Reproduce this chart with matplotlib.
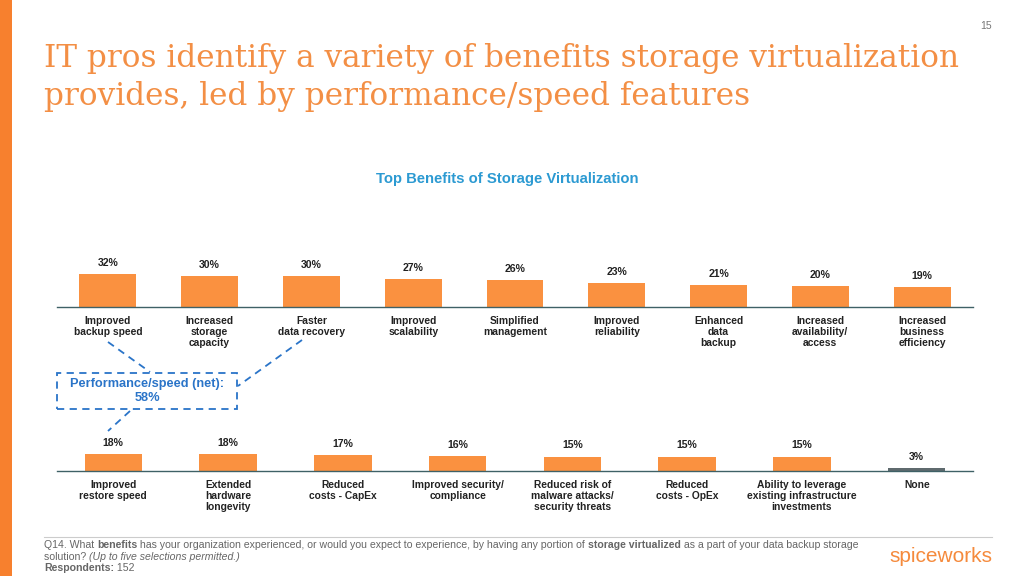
import matplotlib.pyplot as plt
from matplotlib.lines import Line2D
from matplotlib.patches import Rectangle

# top row
top_labels = ['Improved\nbackup speed', 'Increased\nstorage\ncapacity', 'Faster\ndata recovery',
              'Improved\nscalability', 'Simplified\nmanagement', 'Improved\nreliability',
              'Enhanced\ndata\nbackup', 'Increased\navailability/\naccess', 'Increased\nbusiness\nefficiency']
top_values = [32, 30, 30, 27, 26, 23, 21, 20, 19]

# bottom row
bot_labels = ['Improved\nrestore speed', 'Extended\nhardware\nlongevity', 'Reduced\ncosts - CapEx',
              'Improved security/\ncompliance', 'Reduced risk of\nmalware attacks/\nsecurity threats',
              'Reduced\ncosts - OpEx', 'Ability to leverage\nexisting infrastructure\ninvestments', 'None']
bot_values = [18, 18, 17, 16, 15, 15, 15, 3]

net_label = 'Performance/speed (net):\n58%'

ORANGE = '#FA9140'
STRIPE = '#F7802E'
TITLE_OR = '#F38F45'
GREY_BAR = '#5F6A6E'
AXLINE = '#3F6166'
BLUE = '#2A74C8'
TBLUE = '#2C9AD2'

W, H = 1024, 576
plt.rcParams['font.family'] = ['Liberation Sans', 'DejaVu Sans']


def fx(x):
    return x / W


def fy(y):
    return 1 - y / H


fig = plt.figure(figsize=(10.24, 5.76), dpi=100)
fig.patch.set_facecolor('white')

# left stripe
fig.add_artist(Rectangle((0, 0), fx(12), 1, transform=fig.transFigure, color=STRIPE, lw=0))
fig.text(fx(992), fy(26), '15', ha='right', va='center', fontsize=7.5, color='#777777')

fig.text(fx(44), fy(58), 'IT pros identify a variety of benefits storage virtualization',
         fontsize=22.4, color=TITLE_OR, family='DejaVu Serif', va='center', ha='left')
fig.text(fx(44), fy(97), 'provides, led by performance/speed features',
         fontsize=22.4, color=TITLE_OR, family='DejaVu Serif', va='center', ha='left')

fig.text(fx(507), fy(179), 'Top Benefits of Storage Virtualization', ha='center', va='center',
         fontsize=10.7, fontweight='bold', color=TBLUE)


def draw_row(ax, labels, values, colors, width):
    x = range(len(values))
    ax.bar(x, values, width=width, color=colors)
    for i, v in enumerate(values):
        ax.annotate(f'{v}%', (i, v), xytext=(0, 8), textcoords='offset points',
                    ha='center', va='center', fontsize=7.6, fontweight='bold', color='#222222')
        ax.annotate(labels[i], (i, 0), xytext=(0, -6.5), textcoords='offset points',
                    ha='center', va='top', fontsize=7.4, fontweight='bold', color='#222222',
                    linespacing=1.15)
    for s in ['top', 'right', 'left']:
        ax.spines[s].set_visible(False)
    ax.spines['bottom'].set_color(AXLINE)
    ax.spines['bottom'].set_linewidth(1.0)
    ax.set_xticks([])
    ax.set_yticks([])
    ax.patch.set_alpha(0)


# top axes: baseline y=307, 1.04 px per %
ax1 = fig.add_axes([fx(57), fy(307), fx(973 - 57), 60 / H])
ax1.set_xlim(-0.5, 8.5)
ax1.set_ylim(0, 60 / 1.04)
draw_row(ax1, top_labels, top_values, [ORANGE] * 9, 0.56)

# bottom axes: baseline y=471
ax2 = fig.add_axes([fx(57), fy(471), fx(973 - 57), 60 / H])
ax2.set_xlim(-0.49, 7.49)
ax2.set_ylim(0, 60 / 0.96)
draw_row(ax2, bot_labels, bot_values, [ORANGE] * 7 + [GREY_BAR], 0.5)

# performance/speed callout
fig.add_artist(Rectangle((fx(57), fy(409)), fx(237 - 57), (409 - 373) / H, transform=fig.transFigure,
                         fill=False, ec=BLUE, lw=1.3, ls=(0, (4, 3))))
fig.text(fx(147), fy(391), net_label, ha='center', va='center', fontsize=9.2, fontweight='bold',
         color=BLUE, linespacing=1.25)
for (x0, y0), (x1, y1) in [((108, 342), (150, 372)), ((302, 340), (238, 386)), ((130, 411), (108, 431))]:
    fig.add_artist(Line2D([fx(x0), fx(x1)], [fy(y0), fy(y1)], transform=fig.transFigure,
                          color=BLUE, lw=1.3, ls=(0, (4, 3))))

# footer
fig.add_artist(Line2D([fx(44), fx(992)], [fy(537), fy(537)], transform=fig.transFigure,
                      color='#CCCCCC', lw=0.8))
foot_kw = dict(fontsize=7.6, color='#666666', va='center', ha='left')
fig.canvas.draw()
renderer = fig.canvas.get_renderer()


def run_line(y, parts):
    x = fx(44)
    for txt, wt, st in parts:
        tt = fig.text(x, fy(y), txt, fontweight=wt, fontstyle=st, **foot_kw)
        bb = tt.get_window_extent(renderer=renderer)
        x += bb.width / W


run_line(545, [('Q14. What ', 'normal', 'normal'), ('benefits', 'bold', 'normal'),
               (' has your organization experienced, or would you expect to experience, by having any portion of ',
                'normal', 'normal'),
               ('storage virtualized', 'bold', 'normal'),
               (' as a part of your data backup storage', 'normal', 'normal')])
run_line(557, [('solution? ', 'normal', 'normal'), ('(Up to five selections permitted.)', 'normal', 'italic')])
run_line(568, [('Respondents:', 'bold', 'normal'), (' 152', 'normal', 'normal')])

fig.text(fx(992), fy(556), 'spiceworks', ha='right', va='center', fontsize=15, color='#F58A3C')

fig.savefig('out.png', dpi=100)
